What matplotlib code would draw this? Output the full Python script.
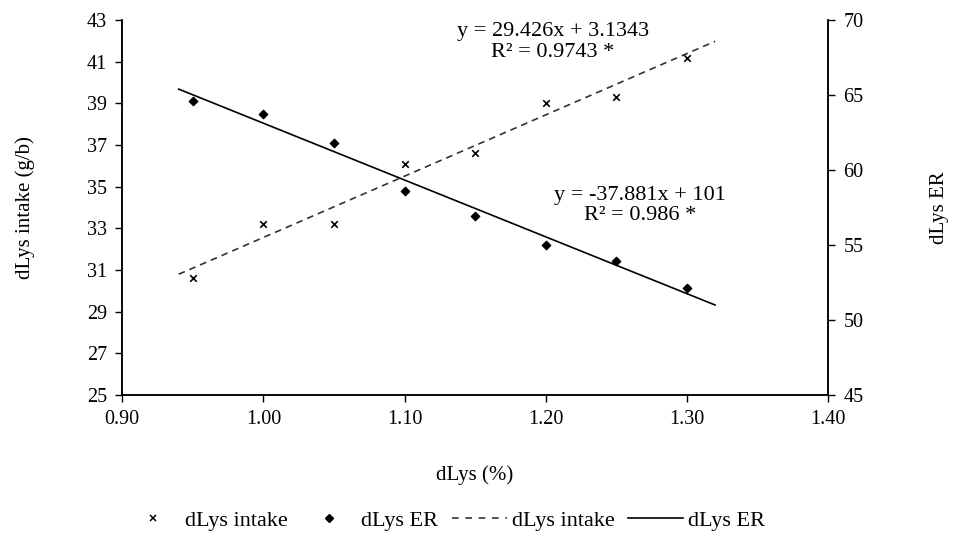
import numpy as np
import matplotlib.pyplot as plt
from matplotlib.lines import Line2D

plt.rcParams['font.family'] = ['Liberation Serif', 'DejaVu Serif']

# data
dlys = [0.95, 1.00, 1.05, 1.10, 1.15, 1.20, 1.25, 1.30]
intake = [30.6, 33.2, 33.2, 36.1, 36.6, 39.0, 39.3, 41.2]
er = [64.6, 63.7, 61.8, 58.6, 56.9, 55.0, 53.9, 52.1]
trend_x = [0.94, 1.32]
intake_fit = (29.426, 3.1343)
er_fit = (-37.881, 101)
x_ticks = [0.90, 1.00, 1.10, 1.20, 1.30, 1.40]
left_ticks = list(range(25, 44, 2))
right_ticks = list(range(45, 71, 5))

fig = plt.figure(figsize=(9.55, 5.41), dpi=100)
fig.subplots_adjust(left=0.128, right=0.867, top=0.963, bottom=0.27)
ax = fig.add_subplot(111)
ax2 = ax.twinx()

tx = np.array(trend_x)
ax.plot(tx, intake_fit[0] * tx + intake_fit[1], color='#333333', ls=(0, (4, 3)), lw=1.2)
ax.scatter(dlys, intake, marker='x', color='black', s=22, lw=1.2, zorder=3)
ax2.plot(tx, er_fit[0] * tx + er_fit[1], color='black', lw=1.2)
ax2.scatter(dlys, er, marker='D', color='black', s=18, zorder=3)

ax.set_xlim(0.9, 1.4)
ax.set_ylim(25, 43)
ax2.set_ylim(45, 70)
ax.set_xticks(x_ticks)
ax.set_xticklabels(['%.2f' % v for v in x_ticks])
ax.set_yticks(left_ticks)
ax2.set_yticks(right_ticks)

for a in (ax, ax2):
    a.tick_params(direction='out', length=5, width=1, labelsize=14.5, colors='black', pad=6)
    a.spines['top'].set_visible(False)
    for s in ('left', 'right', 'bottom'):
        a.spines[s].set_linewidth(1.1)

ax.set_xlabel('dLys (%)', fontsize=15, labelpad=26)
ax.set_ylabel('dLys intake (g/b)', fontsize=15, labelpad=37)
ax2.set_ylabel('dLys ER', fontsize=15, labelpad=48)

ax.text(1.205, 41.95, 'y = 29.426x + 3.1343\nR² = 0.9743 *', ha='center', va='center',
        fontsize=16, linespacing=1.12)
ax.text(1.267, 34.1, 'y = -37.881x + 101\nR² = 0.986 *', ha='center', va='center',
        fontsize=16, linespacing=1.12)

handles = [
    Line2D([], [], marker='x', color='black', ls='none', ms=5, mew=1.1),
    Line2D([], [], marker='D', color='black', ls='none', ms=4),
    Line2D([], [], color='#333333', ls=(0, (4, 4)), lw=1.2),
    Line2D([], [], color='black', lw=1.2),
]
labels = ['dLys intake', 'dLys ER', 'dLys intake', 'dLys ER']
fig.legend(handles, labels, loc='center', bbox_to_anchor=(0.466, 0.037), ncol=4,
           frameon=False, fontsize=16, handlelength=2.5, columnspacing=0.6,
           handletextpad=0.2, borderpad=0, borderaxespad=0)

fig.savefig('out.png', dpi=100)
